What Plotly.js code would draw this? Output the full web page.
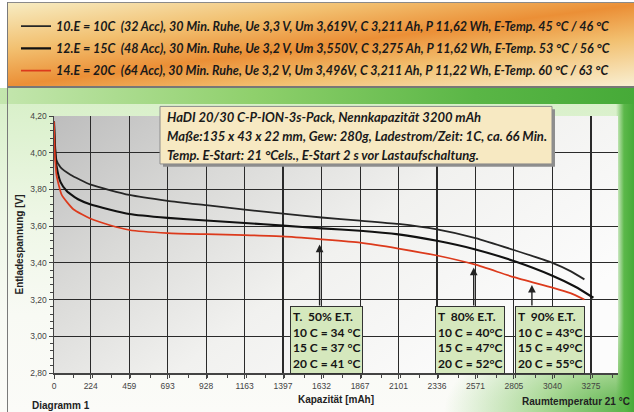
<!DOCTYPE html>
<html><head><meta charset="utf-8">
<script src="https://cdn.plot.ly/plotly-3.0.1.min.js"></script>
<style>
html,body{margin:0;padding:0;background:#fff;}
#wrap{position:relative;width:634px;height:412px;overflow:hidden;}
#banner{position:absolute;left:7px;top:2px;width:640px;height:83px;border-top:1px solid #8a8a8a;border-left:1px solid #8a8a8a;border-bottom:2px solid #777;
 background:linear-gradient(to bottom right,#f7ecc2 0%,#f2c070 28%,#eb8f36 50%,#f2c070 70%,#f9f1d6 100%);}
#green{position:absolute;left:0;top:88px;width:634px;height:324px;background:
 linear-gradient(to right,#c4e6ae 0%,#8fd06c 40%,#5ab646 75%,#46aa38 100%) 0 0/100% 16px no-repeat,
 linear-gradient(to left,#46aa38 0px,#5cb84a 10px,rgba(92,184,74,0) 18px),
 radial-gradient(ellipse 190px 90px at 100% 100%,rgba(74,170,58,0.95) 0%,rgba(120,196,90,0.6) 50%,rgba(255,255,255,0) 100%),
 linear-gradient(to bottom,#d6efc6 0%,#eef7e6 40%,#f8faf4 70%,#fbfbf8 100%);}
#frame{position:absolute;left:7px;top:2px;width:1px;height:410px;background:#7a7a7a;}
#chart{position:absolute;left:0;top:0;width:634px;height:412px;}
</style></head>
<body>
<div id="wrap"><div id="green"></div><div id="banner"></div><div id="frame"></div><div id="chart"></div></div>
<script>
// ---- data ----
const seriesNames = [
  "10.E = 10C\u00a0 (32 Acc), 30 Min. Ruhe, Ue 3,3 V, Um 3,619V, C 3,211 Ah, P 11,62 Wh, E-Temp. 45 °C / 46 °C",
  "12.E = 15C\u00a0 (48 Acc), 30 Min. Ruhe, Ue 3,2 V, Um 3,550V, C 3,275 Ah, P 11,62 Wh, E-Temp. 53 °C / 56 °C",
  "14.E = 20C\u00a0 (64 Acc), 30 Min. Ruhe, Ue 3,2 V, Um 3,496V, C 3,211 Ah, P 11,22 Wh, E-Temp. 60 °C / 63 °C"
];
const cap10 = [0, 6, 15, 40, 100, 224, 459, 693, 928, 1163, 1397, 1632, 1867, 2101, 2336, 2571, 2805, 3040, 3150, 3235];
const volt10 = [4.17, 4.05, 3.96, 3.92, 3.88, 3.826, 3.77, 3.738, 3.714, 3.69, 3.668, 3.647, 3.63, 3.612, 3.582, 3.535, 3.47, 3.40, 3.355, 3.31];
const cap15 = [0, 6, 15, 40, 79, 150, 224, 459, 693, 928, 1163, 1397, 1632, 1867, 2101, 2336, 2571, 2805, 3040, 3180, 3290];
const volt15 = [4.17, 4.02, 3.93, 3.84, 3.79, 3.745, 3.718, 3.666, 3.645, 3.631, 3.617, 3.603, 3.588, 3.575, 3.555, 3.52, 3.473, 3.41, 3.33, 3.27, 3.21];
const cap20 = [0, 5, 15, 47, 118, 224, 342, 459, 693, 928, 1163, 1397, 1632, 1867, 2101, 2336, 2571, 2805, 3040, 3150, 3235];
const volt20 = [4.17, 4.00, 3.88, 3.77, 3.692, 3.64, 3.605, 3.579, 3.562, 3.556, 3.551, 3.544, 3.528, 3.51, 3.478, 3.44, 3.39, 3.322, 3.265, 3.235, 3.20];
const xTickLabels = ["0","224","459","693","928","1163","1397","1632","1867","2101","2336","2571","2805","3040","3275"];
const infoLines = [
  "HaDI 20/30 C-P-ION-3s-Pack, Nennkapazität 3200 mAh",
  "Maße:135 x 43 x 22 mm, Gew: 280g, Ladestrom/Zeit: 1C, ca. 66 Min.",
  "Temp. E-Start: 21 °Cels., E-Start 2 s vor Lastaufschaltung."
];
const tempBoxTexts = [
  ["T.\u00a0 50% E.T.", "10 C = 34 °C", "15 C = 37 °C", "20 C = 41 °C"],
  ["T\u00a0 80% E.T.", "10 C = 40°C", "15 C = 47°C", "20 C = 52°C"],
  ["T\u00a0 90% E.T.", "10 C = 43°C", "15 C = 49°C", "20 C = 55°C"]
];
const tempBoxCap = [1665, 2537, 3025];
const arrowCap = [1620, 2560, 2915];
const arrowVolt = [3.50, 3.375, 3.28];

// ---- drawing ----
const FN = 'Lato,"Liberation Sans",Arial,sans-serif';
const FA = '"Liberation Sans",Arial,sans-serif';

const traces = [
  {x: cap10, y: volt10, name: seriesNames[0], legendgroup:'a', mode:'lines',
   line:{color:'#262626', width:1.8, shape:'spline', smoothing:0.5}},
  {x: cap15, y: volt15, name: seriesNames[1], legendgroup:'b', mode:'lines',
   line:{color:'#111111', width:2.1, shape:'spline', smoothing:0.5}},
  {x: cap20, y: volt20, name: seriesNames[2], legendgroup:'c', mode:'lines',
   line:{color:'#dc3a1c', width:1.7, shape:'spline', smoothing:0.5}}
];

const bgSvg = '<svg xmlns="http://www.w3.org/2000/svg" width="100" height="100" viewBox="0 0 100 100" preserveAspectRatio="none">' +
  '<defs><linearGradient id="g" x1="0" y1="0" x2="1" y2="0.6">' +
  '<stop offset="0" stop-color="#bdbdbd"/><stop offset="0.3" stop-color="#d9d9d7"/>' +
  '<stop offset="0.6" stop-color="#f1f1ef"/><stop offset="1" stop-color="#fcfcfc"/></linearGradient></defs>' +
  '<rect width="100" height="100" fill="url(#g)"/></svg>';

// pixel helpers for paper placement (plot area: x 54..618, y 105..373)
const px = v => (v - 54) / 564;
const py = v => (373 - v) / 268;

const shapes = [
  {type:'rect', xref:'paper', yref:'paper', x0:px(163), x1:px(555), y0:py(158), y1:py(98),
   fillcolor:'#8e8e8e', line:{width:0}},
  {type:'rect', xref:'paper', yref:'paper', x0:px(160), x1:px(552), y0:py(155), y1:py(95),
   fillcolor:'#f7e9c2', line:{color:'#8c8c8c', width:1}}
];

const annotations = [];
infoLines.forEach((t, i) => {
  annotations.push({xref:'paper', yref:'paper', x:px(165), y:py(106 + 20 * i), xanchor:'left', yanchor:'middle',
    text:t, showarrow:false, font:{family:FN, size:13, weight:'bold', style:'italic', color:'#1a1a1a'}});
});
tempBoxTexts.forEach((lines, i) => {
  annotations.push({
    xref:'x', yref:'y', x: arrowCap[i], y: arrowVolt[i], ax: arrowCap[i], ay: 3.16,
    axref:'x', ayref:'y', text:'', showarrow:true, arrowhead:2, arrowsize:1.1,
    arrowwidth:1.4, arrowcolor:'#222', standoff:0, startstandoff:0
  });
  annotations.push({
    xref:'x', yref:'y', x: tempBoxCap[i], y: 3.165, xanchor:'center', yanchor:'top',
    text: lines.join('<br>'), align:'left', showarrow:false,
    font:{family:FN, size:12, weight:'bold', color:'#151515'},
    bgcolor:'#d5e8bd', bordercolor:'#333', borderwidth:1, borderpad:2
  });
});
annotations.push({xref:'paper', yref:'paper', x:px(30), y:py(407), xanchor:'left', yanchor:'middle',
  text:'Diagramm 1', showarrow:false, font:{family:FA, size:10, weight:'bold', color:'#222'}});
annotations.push({xref:'paper', yref:'paper', x:px(632), y:py(403), xanchor:'right', yanchor:'middle',
  text:'Raumtemperatur 21 °C', showarrow:false, font:{family:FA, size:10, weight:'bold', color:'#222'}});

const layout = {
  width:634, height:412,
  margin:{l:54, r:16, t:105, b:39, pad:0},
  paper_bgcolor:'rgba(0,0,0,0)', plot_bgcolor:'rgba(0,0,0,0)',
  separators:',.',
  font:{family:FA, color:'#222'},
  showlegend:true,
  legend:{x:px(16), y:py(-4), xanchor:'left', yanchor:'top', bgcolor:'rgba(0,0,0,0)',
    font:{family:FN, size:12.5, weight:'bold', style:'italic', color:'#1a1a1a'},
    tracegroupgap:3, traceorder:'grouped', itemwidth:30},
  xaxis:{range:[0,3440], tickmode:'array', tickvals: xTickLabels.map(Number), ticktext: xTickLabels,
    showgrid:true, gridcolor:'#2a2a2a', gridwidth:1.2, zeroline:false,
    showline:true, linecolor:'#444', linewidth:1.5, ticks:'outside', ticklen:4, tickcolor:'#444',
    tickfont:{family:FA, size:8.5, color:'#444'},
    minor:{tickmode:'linear', tick0:0, dtick:117.4, ticks:'outside', ticklen:3, tickcolor:'#444', showgrid:false},
    title:{text:'Kapazität [mAh]', font:{family:FA, size:10, weight:'bold', color:'#222'}, standoff:6}},
  yaxis:{range:[2.8,4.2], tick0:2.8, dtick:0.2, tickformat:'.2f',
    showgrid:true, gridcolor:'#2a2a2a', gridwidth:1.2, zeroline:false,
    showline:true, linecolor:'#444', linewidth:1.5, ticks:'outside', ticklen:4, tickcolor:'#444',
    tickfont:{family:FA, size:8.5, color:'#444'},
    minor:{tickmode:'linear', tick0:2.8, dtick:0.04, ticks:'outside', ticklen:3, tickcolor:'#444', showgrid:false},
    title:{text:'Entladespannung [V]', font:{family:FA, size:10, weight:'bold', color:'#222'}, standoff:5}},
  images:[{source:'data:image/svg+xml;charset=utf-8,' + encodeURIComponent(bgSvg),
    xref:'paper', yref:'paper', x:0, y:1, sizex:1, sizey:1, xanchor:'left', yanchor:'top',
    sizing:'stretch', layer:'below'}],
  shapes: shapes,
  annotations: annotations
};

Plotly.newPlot('chart', traces, layout, {displayModeBar:false, staticPlot:true});
</script>
</body></html>
